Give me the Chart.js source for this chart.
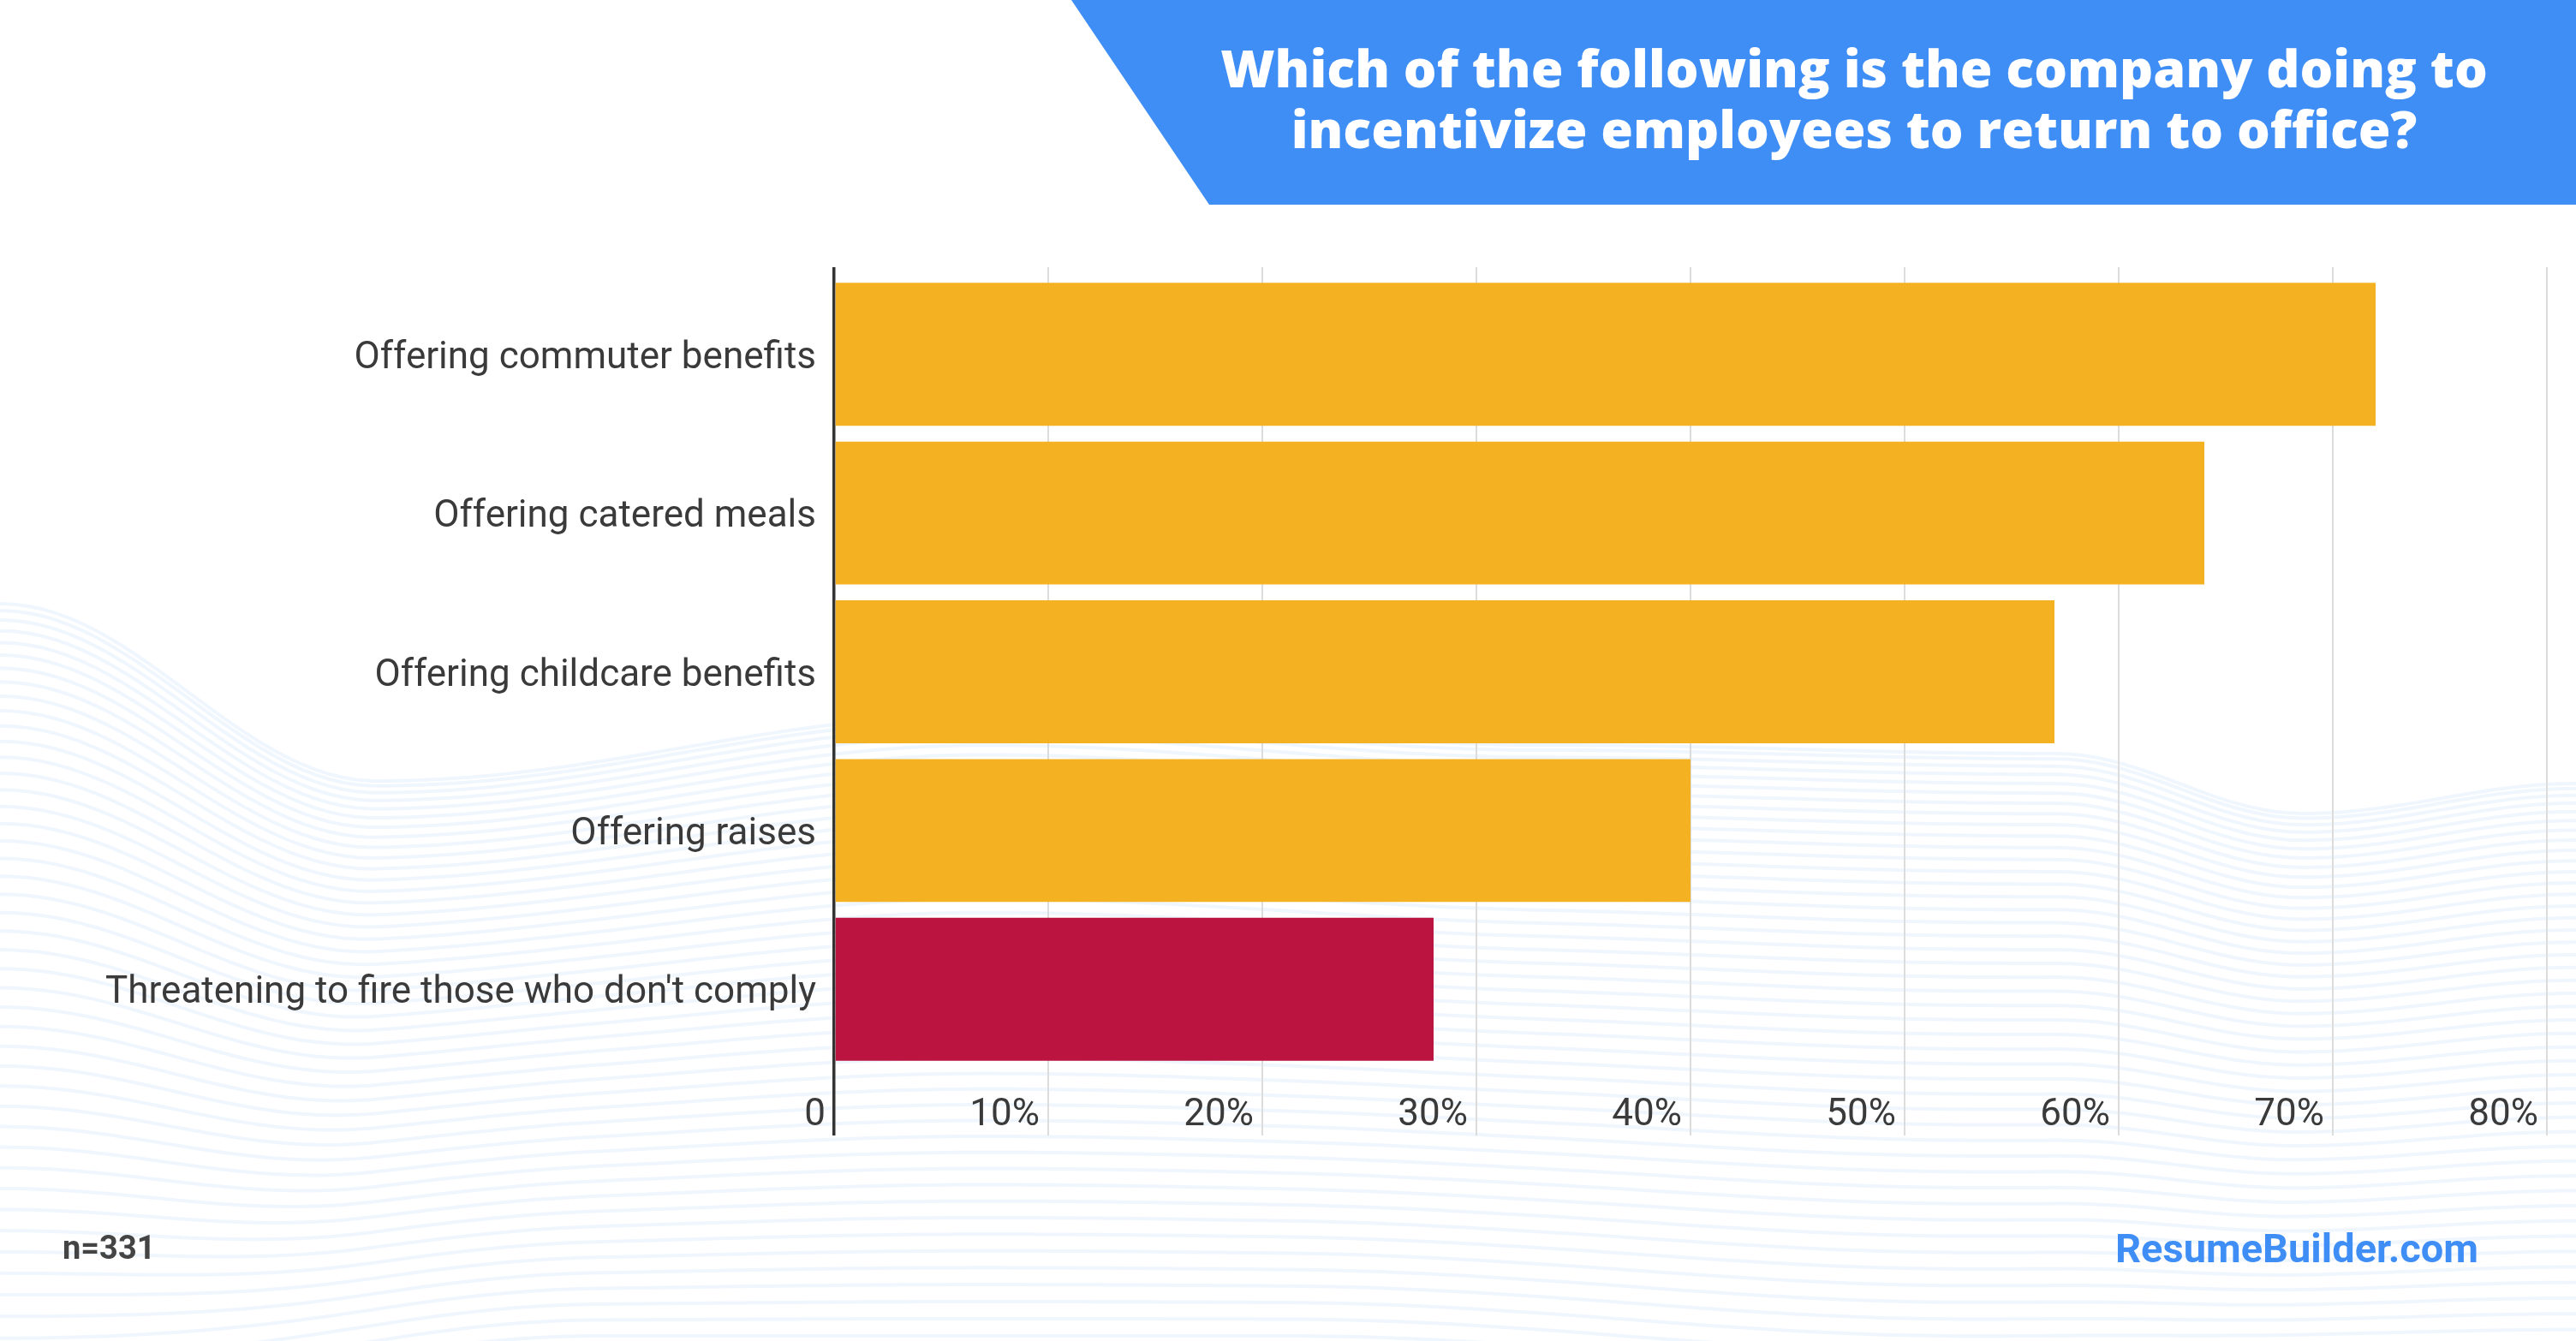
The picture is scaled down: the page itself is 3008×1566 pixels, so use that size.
<!DOCTYPE html>
<html lang="en">
<head>
<meta charset="UTF-8">
<script src="https://cdn.jsdelivr.net/npm/chart.js"></script>
<title>Return to office incentives</title>
<style>
  html, body { margin: 0; padding: 0; background: #fff; }
  #wrap { position: relative; width: 3008px; height: 1566px; overflow: hidden; font-family: Roboto, sans-serif; }
  #myChart { position: absolute; left: 0; top: 0; }
  #banner { position: absolute; left: 0; top: 0; width: 3008px; height: 239px; background: #3f8ef6;
            clip-path: polygon(1251px 0, 3008px 0, 3008px 239px, 1412px 239px); }
  #title { position: absolute; left: 1365px; width: 1600px; top: 43px; text-align: center; color: #fff;
           font-family: "Open Sans", Roboto, sans-serif; font-weight: 800; font-size: 61px; line-height: 71px; white-space: nowrap; }
  #n { position: absolute; left: 73px; top: 1438px; font-weight: 700; font-size: 38px; line-height: 38px; color: #444; }
  #brand { position: absolute; left: 2470px; top: 1434px; font-weight: 700; font-size: 47px; line-height: 47px; color: #3f8ef6; }
</style>
</head>
<body>
<div id="wrap">
  <canvas id="myChart" width="3008" height="1566" style="width:3008px;height:1566px"></canvas>
  <div id="banner"></div>
  <div id="title">Which of the following is the company doing to<br>incentivize employees to return to office?</div>
  <div id="n">n=331</div>
  <div id="brand">ResumeBuilder.com</div>
</div>
<script>
const labels = [
  'Offering commuter benefits',
  'Offering catered meals',
  'Offering childcare benefits',
  'Offering raises',
  "Threatening to fire those who don't comply"
];
const shares = [72, 64, 57, 40, 28];
const barColors = ['#f4b223', '#f4b223', '#f4b223', '#f4b223', '#bb1440'];
const xMin = 0, xMax = 80, xStep = 10;

// faint wavy lines in the background (decoration only)
const waveTop = [[0, 705], [440, 912], [1150, 835], [1800, 870], [2400, 880], [2690, 950], [3008, 915]];
const waveBottom = [[0, 1640], [700, 1560], [1500, 1560], [2300, 1600], [3008, 1590]];

function cosInterp(pts, x) {
  for (let i = 0; i < pts.length - 1; i++) {
    const [x0, y0] = pts[i], [x1, y1] = pts[i + 1];
    if (x >= x0 && x <= x1) {
      const mu = (1 - Math.cos((x - x0) / (x1 - x0) * Math.PI)) / 2;
      return y0 * (1 - mu) + y1 * mu;
    }
  }
  return pts[pts.length - 1][1];
}

const wavesPlugin = {
  id: 'waves',
  beforeDraw(chart) {
    const ctx = chart.ctx;
    ctx.save();
    ctx.fillStyle = '#fff';
    ctx.fillRect(0, 0, chart.width, chart.height);
    ctx.strokeStyle = 'rgba(70, 140, 230, 0.08)';
    ctx.lineWidth = 4;
    const n = 45;
    for (let k = 0; k <= n; k++) {
      const t = Math.pow(k / n, 1.25);
      ctx.beginPath();
      for (let x = 0; x <= chart.width; x += 16) {
        const y = cosInterp(waveTop, x) * (1 - t) + cosInterp(waveBottom, x) * t;
        if (x === 0) ctx.moveTo(x, y); else ctx.lineTo(x, y);
      }
      ctx.stroke();
    }
    ctx.restore();
  }
};

const tickFont = { family: 'Roboto', size: 44 };
const gridColor = c => (c.tick && c.tick.value === 0 ? '#333' : '#dcdcdc');
const gridWidth = c => (c.tick && c.tick.value === 0 ? 3.5 : 2);

const ctx = document.getElementById('myChart').getContext('2d');
new Chart(ctx, {
  type: 'bar',
  data: {
    labels: labels,
    datasets: [{
      data: shares,
      backgroundColor: barColors,
      borderWidth: 0,
      categoryPercentage: 1,
      barPercentage: 0.9
    }]
  },
  plugins: [wavesPlugin],
  options: {
    indexAxis: 'y',
    responsive: false,
    devicePixelRatio: 1,
    animation: false,
    layout: { padding: { left: 0, right: 34, top: 312, bottom: 198 } },
    plugins: { legend: { display: false }, tooltip: { enabled: false } },
    scales: {
      x: {
        position: 'bottom',
        min: xMin, max: xMax,
        ticks: {
          stepSize: xStep,
          callback: v => (v === 0 ? '0' : v + '%'),
          align: 'end',
          labelOffset: -10,
          padding: -49,
          font: tickFont,
          color: '#3a3a3a'
        },
        grid: { color: gridColor, lineWidth: gridWidth, drawTicks: true, tickLength: 78 },
        border: { display: false },
        afterFit: s => { s.height = 120; }
      },
      x2: {
        position: 'top',
        min: xMin, max: xMax,
        ticks: { stepSize: xStep, display: false },
        grid: { color: gridColor, lineWidth: gridWidth, drawOnChartArea: false, drawTicks: true, tickLength: 9 },
        border: { display: false },
        afterFit: s => { s.height = 9; }
      },
      y: {
        ticks: { font: tickFont, color: '#3a3a3a', padding: 21, labelOffset: 5 },
        grid: { display: false, drawTicks: false },
        border: { display: false },
        afterFit: s => { s.width = 974; }
      }
    }
  }
});
</script>
</body>
</html>
